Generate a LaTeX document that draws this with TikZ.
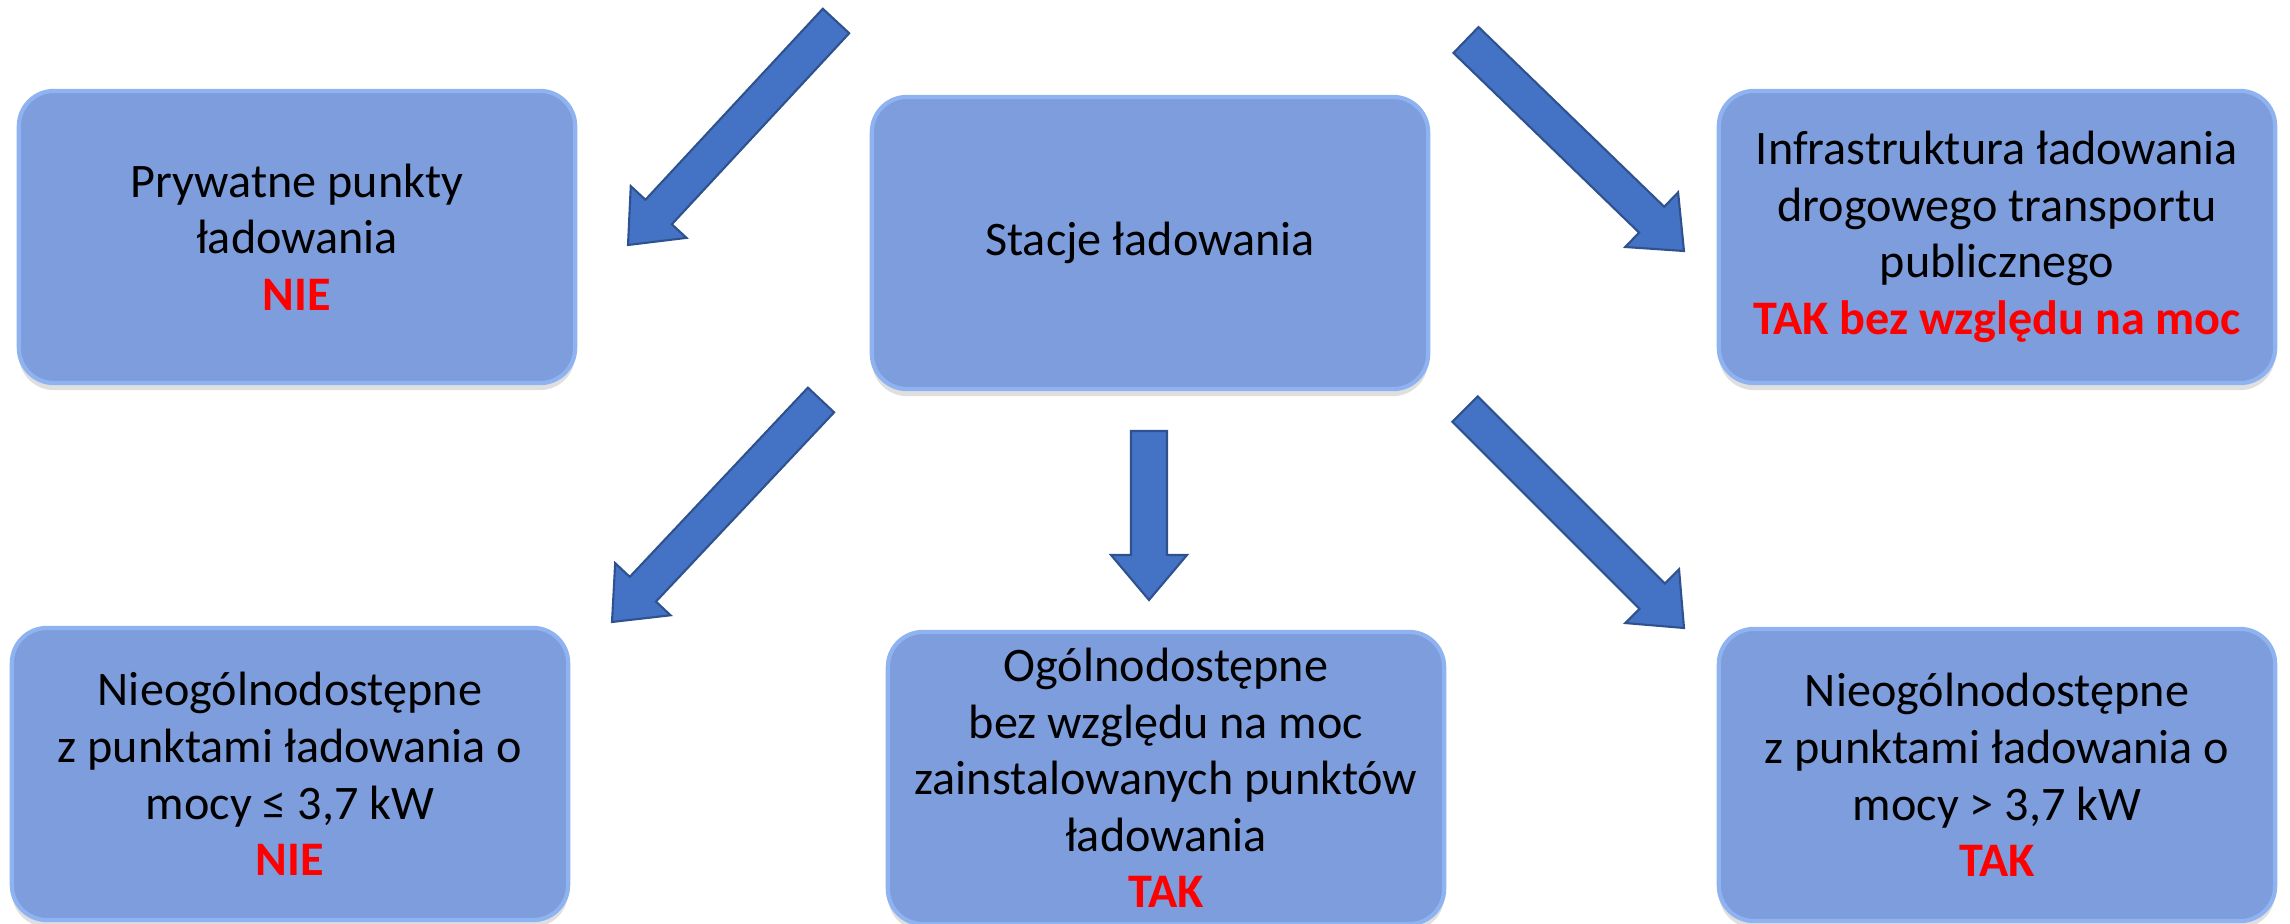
\documentclass[tikz,border=0pt]{standalone}
\usepackage{fontspec}
\setmainfont{Carlito}
\usetikzlibrary{calc,shadows}
\definecolor{boxfill}{RGB}{125,157,220}
\definecolor{boxedge}{RGB}{143,178,240}
\definecolor{arrfill}{RGB}{68,114,196}
\definecolor{arrline}{RGB}{47,82,143}
\definecolor{ansred}{RGB}{255,0,0}
\newcommand{\ans}[1]{\textcolor{ansred}{\textbf{#1}}}
\newcommand{\blockarr}[2]{%
  \coordinate (#1-base) at ($(#2)!0.45cm!(#1)$);
  \filldraw[blockarrow] ($(#1)!0.18cm!90:(#2)$) -- ($(#1-base)!0.18cm!90:(#2)$)
    -- ($(#1-base)!0.38cm!90:(#2)$) -- (#2) -- ($(#1-base)!0.38cm!-90:(#2)$)
    -- ($(#1-base)!0.18cm!-90:(#2)$) -- ($(#1)!0.18cm!-90:(#2)$) -- cycle;}

\begin{document}
\begin{tikzpicture}[x=0.01cm, y=-0.01cm,
    box/.style={rectangle, rounded corners=10pt, draw=boxedge, line width=1.2pt, fill=boxfill,
      minimum width=5.56cm, minimum height=2.92cm, align=center, font=\fontsize{13.7}{16.1}\selectfont,
      drop shadow={opacity=0.25, shadow xshift=0pt, shadow yshift=-2pt}},
    blockarrow/.style={fill=arrfill, draw=arrline, line width=0.6pt}
]
  \useasboundingbox (0,0) rectangle (2290,924);
  \node[box] (priv) at (297,237) {Prywatne punkty\\ładowania\\\ans{NIE}};
  \node[box] (stacje) at (1150,243) {Stacje ładowania};
  \node[box] (infra) at (1997,237) {Infrastruktura ładowania\\drogowego transportu\\publicznego\\\ans{TAK bez względu na moc}};
  \node[box] (nieLow) at (290,774) {Nieogólnodostępne\\z punktami ładowania o\\mocy ≤ 3,7 kW\\\ans{NIE}};
  \node[box] (ogol) at (1166,778) {Ogólnodostępne\\bez względu na moc\\zainstalowanych punktów\\ładowania\\\ans{TAK}};
  \node[box] (nieHigh) at (1997,775) {Nieogólnodostępne\\z punktami ładowania o\\mocy > 3,7 kW\\\ans{TAK}};
  \coordinate (a1t) at (836,21);   \coordinate (a1h) at (628,245);
  \coordinate (a2t) at (1466,40);  \coordinate (a2h) at (1684,251);
  \coordinate (a3t) at (821,400);  \coordinate (a3h) at (612,622);
  \coordinate (a4t) at (1149,431); \coordinate (a4h) at (1149,600);
  \coordinate (a5t) at (1465,409); \coordinate (a5h) at (1684,628);
  \blockarr{a1t}{a1h}
  \blockarr{a2t}{a2h}
  \blockarr{a3t}{a3h}
  \blockarr{a4t}{a4h}
  \blockarr{a5t}{a5h}
\end{tikzpicture}
\end{document}
